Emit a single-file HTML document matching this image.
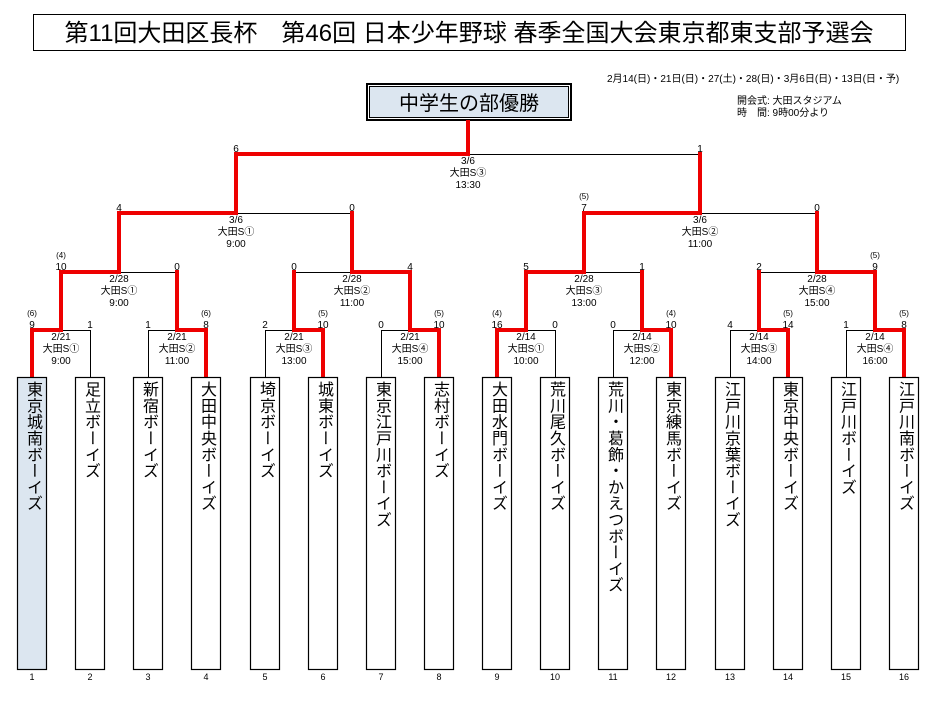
<!DOCTYPE html>
<html><head><meta charset="utf-8"><style>
body{margin:0;width:947px;height:706px;background:#fff;position:relative;overflow:hidden;font-family:"Liberation Sans","Noto Sans CJK JP",sans-serif;}
.t{position:absolute;writing-mode:vertical-rl;font-size:16px;line-height:16px;top:381px;width:16px;color:#000;letter-spacing:0.3px;}
svg{position:absolute;left:0;top:0}
</style></head><body>
<svg width="947" height="706" font-family="Liberation Sans, Noto Sans CJK JP, sans-serif">
<!-- title -->
<rect x="33.5" y="14.5" width="872" height="36" fill="#fff" stroke="#000" stroke-width="1"/>
<text x="469" y="41" font-size="24" text-anchor="middle">第11回大田区長杯　第46回 日本少年野球 春季全国大会東京都東支部予選会</text>
<text x="607" y="82" font-size="10">2月14(日)・21日(日)・27(土)・28(日)・3月6日(日)・13日(日・予)</text>
<text x="737" y="104" font-size="10">開会式: 大田スタジアム</text>
<text x="737" y="116" font-size="10">時　間: 9時00分より</text>
<!-- champion box -->
<rect x="366" y="83" width="206" height="38" fill="#000"/>
<rect x="368" y="85" width="202" height="34" fill="#fff"/>
<rect x="369.5" y="86.5" width="199" height="31" fill="#dce6f0" stroke="#000" stroke-width="1"/>
<text x="469" y="110" font-size="20" text-anchor="middle">中学生の部優勝</text>

<g stroke="#000" stroke-width="1" fill="none">
<!-- R1 horizontals -->
<path d="M32 330.5H90M148 330.5H206M265 330.5H323M381 330.5H439M497 330.5H555M613 330.5H671M730 330.5H788M846 330.5H904"/>
<!-- R1 verticals -->
<path d="M32.5 330V377M90.5 330V377M148.5 330V377M206.5 330V377M265.5 330V377M323.5 330V377M381.5 330V377M439.5 330V377M497.5 330V377M555.5 330V377M613.5 330V377M671.5 330V377M730.5 330V377M788.5 330V377M846.5 330V377M904.5 330V377"/>
<path d="M61 272.5H177M294 272.5H410M526 272.5H642M759 272.5H875"/>
<path d="M119 213.5H352M584 213.5H817"/>
<path d="M236 154.5H700"/>
</g>
<g stroke="#e00" stroke-width="4" fill="none" stroke-linecap="square">
<path d="M32 378V330H61M206 378V330H177M323 378V330H294M439 378V330H410M497 378V330H526M671 378V330H642M788 378V330H759M904 378V330H875"/>
<path d="M61 330V272H119M177 330V272M294 330V272M410 330V272H352M526 330V272H584M642 330V272M759 330V272M875 330V272H817"/>
<path d="M119 272V213H236M352 272V213M584 272V213H700M817 272V213"/>
<path d="M236 213V154H468M700 213V154M468 154V122"/>
</g>

<g font-size="10" text-anchor="middle" fill="#000">
<!-- R1 scores -->
<text x="32" y="328">9</text><text x="90" y="328">1</text><text x="148" y="328">1</text><text x="206" y="328">8</text>
<text x="265" y="328">2</text><text x="323" y="328">10</text><text x="381" y="328">0</text><text x="439" y="328">10</text>
<text x="497" y="328">16</text><text x="555" y="328">0</text><text x="613" y="328">0</text><text x="671" y="328">10</text>
<text x="730" y="328">4</text><text x="788" y="328">14</text><text x="846" y="328">1</text><text x="904" y="328">8</text>
<g font-size="8"><text x="32" y="316">(6)</text><text x="206" y="316">(6)</text><text x="323" y="316">(5)</text><text x="439" y="316">(5)</text>
<text x="497" y="316">(4)</text><text x="671" y="316">(4)</text><text x="788" y="316">(5)</text><text x="904" y="316">(5)</text>
<text x="61" y="258">(4)</text><text x="875" y="258">(5)</text><text x="584" y="199">(5)</text></g>
<!-- R2 scores -->
<text x="61" y="270">10</text><text x="177" y="270">0</text><text x="294" y="270">0</text><text x="410" y="270">4</text>
<text x="526" y="270">5</text><text x="642" y="270">1</text><text x="759" y="270">2</text><text x="875" y="270">9</text>
<text x="119" y="211">4</text><text x="352" y="211">0</text><text x="584" y="211">7</text><text x="817" y="211">0</text>
<text x="236" y="152">6</text><text x="700" y="152">1</text>
<!-- R1 match info -->
<g>
<text x="61" y="340">2/21</text><text x="61" y="352">大田S①</text><text x="61" y="364">9:00</text>
<text x="177" y="340">2/21</text><text x="177" y="352">大田S②</text><text x="177" y="364">11:00</text>
<text x="294" y="340">2/21</text><text x="294" y="352">大田S③</text><text x="294" y="364">13:00</text>
<text x="410" y="340">2/21</text><text x="410" y="352">大田S④</text><text x="410" y="364">15:00</text>
<text x="526" y="340">2/14</text><text x="526" y="352">大田S①</text><text x="526" y="364">10:00</text>
<text x="642" y="340">2/14</text><text x="642" y="352">大田S②</text><text x="642" y="364">12:00</text>
<text x="759" y="340">2/14</text><text x="759" y="352">大田S③</text><text x="759" y="364">14:00</text>
<text x="875" y="340">2/14</text><text x="875" y="352">大田S④</text><text x="875" y="364">16:00</text>
<text x="119" y="282">2/28</text><text x="119" y="294">大田S①</text><text x="119" y="306">9:00</text>
<text x="352" y="282">2/28</text><text x="352" y="294">大田S②</text><text x="352" y="306">11:00</text>
<text x="584" y="282">2/28</text><text x="584" y="294">大田S③</text><text x="584" y="306">13:00</text>
<text x="817" y="282">2/28</text><text x="817" y="294">大田S④</text><text x="817" y="306">15:00</text>
<text x="236" y="223">3/6</text><text x="236" y="235">大田S①</text><text x="236" y="247">9:00</text>
<text x="700" y="223">3/6</text><text x="700" y="235">大田S②</text><text x="700" y="247">11:00</text>
<text x="468" y="164">3/6</text><text x="468" y="176">大田S③</text><text x="468" y="188">13:30</text>
</g>
<!-- boxes -->
<g stroke="#000" stroke-width="1.2">
<rect x="17.5" y="377.5" width="29" height="292" fill="#dce6f0"/>
<rect x="75.5" y="377.5" width="29" height="292" fill="#fff"/>
<rect x="133.5" y="377.5" width="29" height="292" fill="#fff"/>
<rect x="191.5" y="377.5" width="29" height="292" fill="#fff"/>
<rect x="250.5" y="377.5" width="29" height="292" fill="#fff"/>
<rect x="308.5" y="377.5" width="29" height="292" fill="#fff"/>
<rect x="366.5" y="377.5" width="29" height="292" fill="#fff"/>
<rect x="424.5" y="377.5" width="29" height="292" fill="#fff"/>
<rect x="482.5" y="377.5" width="29" height="292" fill="#fff"/>
<rect x="540.5" y="377.5" width="29" height="292" fill="#fff"/>
<rect x="598.5" y="377.5" width="29" height="292" fill="#fff"/>
<rect x="656.5" y="377.5" width="29" height="292" fill="#fff"/>
<rect x="715.5" y="377.5" width="29" height="292" fill="#fff"/>
<rect x="773.5" y="377.5" width="29" height="292" fill="#fff"/>
<rect x="831.5" y="377.5" width="29" height="292" fill="#fff"/>
<rect x="889.5" y="377.5" width="29" height="292" fill="#fff"/>
</g>
<g font-size="9">
<text x="32" y="680">1</text><text x="90" y="680">2</text><text x="148" y="680">3</text><text x="206" y="680">4</text>
<text x="265" y="680">5</text><text x="323" y="680">6</text><text x="381" y="680">7</text><text x="439" y="680">8</text>
<text x="497" y="680">9</text><text x="555" y="680">10</text><text x="613" y="680">11</text><text x="671" y="680">12</text>
<text x="730" y="680">13</text><text x="788" y="680">14</text><text x="846" y="680">15</text><text x="904" y="680">16</text>
</g>
</g>
</svg>
<div class="t" style="left:24px">東京城南ボーイズ</div>
<div class="t" style="left:82px">足立ボーイズ</div>
<div class="t" style="left:140px">新宿ボーイズ</div>
<div class="t" style="left:198px">大田中央ボーイズ</div>
<div class="t" style="left:257px">埼京ボーイズ</div>
<div class="t" style="left:315px">城東ボーイズ</div>
<div class="t" style="left:373px">東京江戸川ボーイズ</div>
<div class="t" style="left:431px">志村ボーイズ</div>
<div class="t" style="left:489px">大田水門ボーイズ</div>
<div class="t" style="left:547px">荒川尾久ボーイズ</div>
<div class="t" style="left:605px">荒川・葛飾・かえつボーイズ</div>
<div class="t" style="left:663px">東京練馬ボーイズ</div>
<div class="t" style="left:722px">江戸川京葉ボーイズ</div>
<div class="t" style="left:780px">東京中央ボーイズ</div>
<div class="t" style="left:838px">江戸川ボーイズ</div>
<div class="t" style="left:896px">江戸川南ボーイズ</div>
</body></html>
